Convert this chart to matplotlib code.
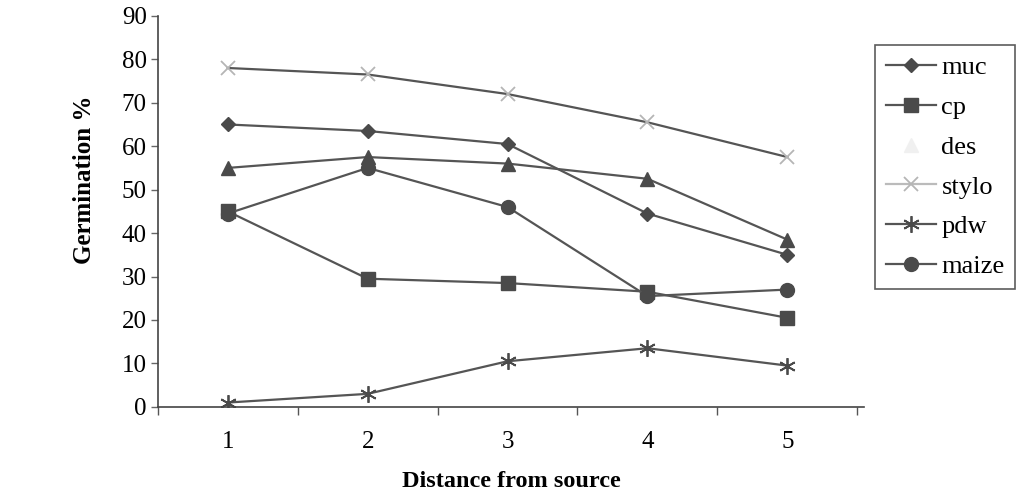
import matplotlib
matplotlib.use("Agg")
import matplotlib.pyplot as plt
from matplotlib.lines import Line2D

# === DATOS ===
distance = [1, 2, 3, 4, 5]
muc   = [65, 63.5, 60.5, 44.5, 35]
cp    = [45, 29.5, 28.5, 26.5, 20.5]
des   = [55, 57.5, 56, 52.5, 38.5]
stylo = [78, 76.5, 72, 65.5, 57.5]
pdw   = [1, 3, 10.5, 13.5, 9.5]
maize = [44.5, 55, 46, 25.5, 27]

series_names = ["muc", "cp", "des", "stylo", "pdw", "maize"]
y_ticks = [0, 10, 20, 30, 40, 50, 60, 70, 80, 90]

LINE = "#555555"
MARK = "#4a4a4a"
LIGHT = "#b5b5b5"

plt.rcParams["font.family"] = ["Liberation Serif", "DejaVu Serif"]

fig = plt.figure(figsize=(10.18, 4.95), dpi=100)
ax = fig.add_axes([0.155, 0.178, 0.694, 0.79])

styles = {
    "muc":   dict(marker="D", ms=7.5, mfc=MARK, mec=MARK),
    "cp":    dict(marker="s", ms=9.5, mfc=MARK, mec=MARK),
    "des":   dict(marker="^", ms=9.5, mfc=MARK, mec=MARK),
    "stylo": dict(marker="x", ms=10, mfc=LIGHT, mec=LIGHT, mew=1.3),
    "pdw":   dict(marker=(6, 2, 0), ms=12, mec=MARK, mew=1.3),
    "maize": dict(marker="o", ms=10, mfc=MARK, mec=MARK),
}
data = {"muc": muc, "cp": cp, "des": des, "stylo": stylo, "pdw": pdw, "maize": maize}

for name in series_names:
    ax.plot(distance, data[name], color=LINE, lw=1.6, **styles[name])

ax.set_xlim(0.5, 5.55)
ax.set_ylim(0, 90)
ax.set_yticks(y_ticks)
ax.tick_params(axis="y", direction="out", length=5, width=1, labelsize=18, pad=3, color="#666666")
ax.set_xticks([0.5, 1.5, 2.5, 3.5, 4.5, 5.5])
ax.set_xticklabels([])
ax.set_xticks(distance, minor=True)
ax.set_xticklabels([str(d) for d in distance], minor=True, fontsize=18)
ax.tick_params(axis="x", which="major", direction="out", length=6, width=1, color="#555555")
ax.tick_params(axis="x", which="minor", length=0, pad=17)

for s in ["top", "right"]:
    ax.spines[s].set_visible(False)
for s in ["left", "bottom"]:
    ax.spines[s].set_color("#444444")
    ax.spines[s].set_linewidth(1.2)

ax.set_xlabel("Distance from source", fontsize=17.5, fontweight="bold", labelpad=13)
ax.set_ylabel("Germination %", fontsize=18, fontweight="bold")
ax.yaxis.set_label_coords(-0.087, 0.58)

# leyenda (des casi invisible en el original escaneado)
handles = []
for name in series_names:
    st = dict(styles[name])
    col = LINE
    if name == "des":
        st.update(mfc="#f0f0f0", mec="#f0f0f0")
        col = "#ffffff"
    if name == "stylo":
        col = "#bbbbbb"
    handles.append(Line2D([], [], color=col, lw=1.6, **st))
leg = fig.legend(handles, series_names, loc="upper left", bbox_to_anchor=(0.86, 0.909),
                 frameon=True, fancybox=False, edgecolor="#333333", fontsize=19,
                 handlelength=1.9, handletextpad=0.2, labelspacing=0.62, borderpad=0.4,
                 borderaxespad=0)
leg.get_frame().set_linewidth(1.2)

fig.savefig("out.png", dpi=100)
